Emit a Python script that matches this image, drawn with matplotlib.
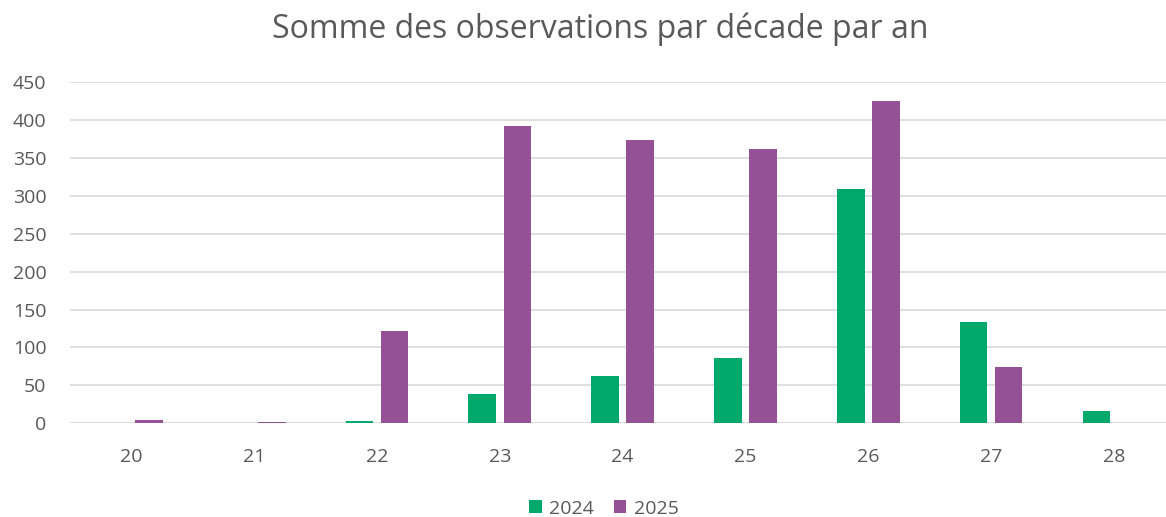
import matplotlib
matplotlib.use("Agg")
import matplotlib.pyplot as plt
import numpy as np

categories = ["20", "21", "22", "23", "24", "25", "26", "27", "28"]
series_2024 = [0, 0, 3, 39, 63, 86, 309, 134, 16]
series_2025 = [4, 2, 122, 391, 373, 361, 425, 74, 0]
yticks = [0, 50, 100, 150, 200, 250, 300, 350, 400, 450]

plt.rcParams['font.family'] = ['Open Sans', 'DejaVu Sans']
fig = plt.figure(figsize=(11.66, 5.17), dpi=100)
ax = fig.add_axes([0.060, 0.181, 0.948, 0.661])

x = np.arange(len(categories))
w = 0.225
off = 0.143
green = "#00A86B"
purple = "#955196"
ax.bar(x - off, series_2024, width=w, color=green, label="2024", zorder=3)
ax.bar(x + off, series_2025, width=w, color=purple, label="2025", zorder=3)

ax.set_xlim(-0.5, len(categories) - 0.5)
ax.set_ylim(0, 450)
ax.set_yticks(yticks)
ax.set_xticks(x)
ax.set_xticklabels(categories)
ax.grid(axis='y', color="#D9D9D9", linewidth=1.2, zorder=0)
for s in ax.spines.values():
    s.set_visible(False)
ax.tick_params(axis='both', length=0, labelsize=14, colors="#595959")
ax.tick_params(axis='x', pad=18)
ax.tick_params(axis='y', pad=17)
ax.axhline(0, color="#D9D9D9", linewidth=1.2, zorder=1)

fig.suptitle("Somme des observations par décade par an", x=0.515, y=0.975, fontsize=23, color="#595959")
fig.legend(loc="lower center", ncol=2, frameon=False, fontsize=14, labelcolor="#595959",
           handlelength=0.65, handleheight=0.65, columnspacing=1.0, handletextpad=0.4,
           bbox_to_anchor=(0.518, -0.035))

fig.savefig("out.png", dpi=100)
